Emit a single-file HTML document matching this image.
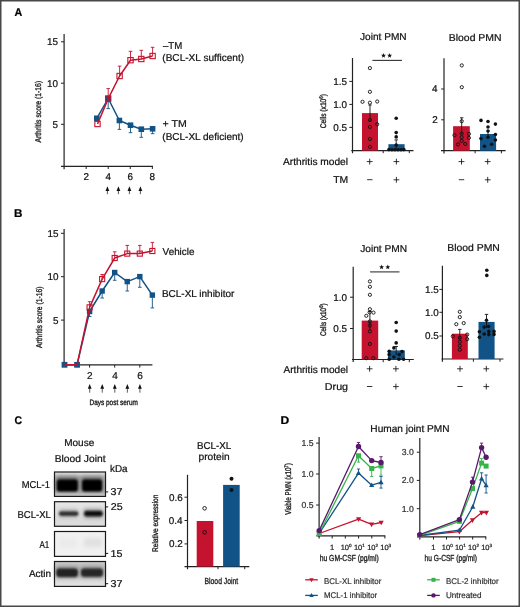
<!DOCTYPE html>
<html><head><meta charset="utf-8"><style>
html,body{margin:0;padding:0;background:#fff;}
body{width:520px;height:607px;overflow:hidden;font-family:"Liberation Sans",sans-serif;}
svg{display:block;filter:blur(0.3px);}
svg text{font-family:"Liberation Sans",sans-serif;text-rendering:geometricPrecision;stroke-width:0.22px;}
</style></head><body>
<svg width="520" height="607" viewBox="0 0 520 607" font-family="Liberation Sans, sans-serif">
<rect x="0" y="0" width="520" height="607" fill="#fff" stroke="none" stroke-width="0" />
<rect x="0.75" y="0.75" width="518.5" height="605.5" fill="none" stroke="#484848" stroke-width="1.5" />
<text x="14.38" y="16.1" font-size="11.2" fill="#000" stroke="#000" font-weight="bold" textLength="7.76" lengthAdjust="spacingAndGlyphs" >A</text>
<line x1="64.1" y1="34" x2="64.1" y2="169.2" stroke="#222" stroke-width="1.2" />
<line x1="61" y1="166.3" x2="153" y2="166.3" stroke="#222" stroke-width="1.2" />
<line x1="61" y1="41.8" x2="64" y2="41.8" stroke="#222" stroke-width="1.0" />
<text x="47.01" y="45.27" font-size="9.9" fill="#111" stroke="#111">15</text>
<line x1="61" y1="83.2" x2="64" y2="83.2" stroke="#222" stroke-width="1.0" />
<text x="47.01" y="86.67" font-size="9.9" fill="#111" stroke="#111">10</text>
<line x1="61" y1="124.3" x2="64" y2="124.3" stroke="#222" stroke-width="1.0" />
<text x="52.55" y="127.77" font-size="9.9" fill="#111" stroke="#111">5</text>
<line x1="86.16" y1="166.3" x2="86.16" y2="169" stroke="#222" stroke-width="1.0" />
<text x="83.39" y="180.2" font-size="9.9" fill="#111" stroke="#111">2</text>
<line x1="108.22" y1="166.3" x2="108.22" y2="169" stroke="#222" stroke-width="1.0" />
<text x="105.50" y="180.2" font-size="9.9" fill="#111" stroke="#111">4</text>
<line x1="130.27999999999997" y1="166.3" x2="130.27999999999997" y2="169" stroke="#222" stroke-width="1.0" />
<text x="127.51" y="180.2" font-size="9.9" fill="#111" stroke="#111">6</text>
<line x1="152.33999999999997" y1="166.3" x2="152.33999999999997" y2="169" stroke="#222" stroke-width="1.0" />
<text x="149.62" y="180.2" font-size="9.9" fill="#111" stroke="#111">8</text>
<line x1="107.4" y1="189.8" x2="107.4" y2="194.2" stroke="#333" stroke-width="0.8" />
<polygon points="107.4,186.3 105.5,190.9 109.30000000000001,190.9" fill="#111"/>
<line x1="118.4" y1="189.8" x2="118.4" y2="194.2" stroke="#333" stroke-width="0.8" />
<polygon points="118.4,186.3 116.5,190.9 120.30000000000001,190.9" fill="#111"/>
<line x1="129.4" y1="189.8" x2="129.4" y2="194.2" stroke="#333" stroke-width="0.8" />
<polygon points="129.4,186.3 127.5,190.9 131.3,190.9" fill="#111"/>
<line x1="140.4" y1="189.8" x2="140.4" y2="194.2" stroke="#333" stroke-width="0.8" />
<polygon points="140.4,186.3 138.5,190.9 142.3,190.9" fill="#111"/>
<text transform="translate(41.4,142.60) rotate(-90)" x="0" y="0" font-size="8.4" fill="#1e1e1e" stroke="#1e1e1e" style="stroke-width:0.35px" font-weight="normal" textLength="61.76" lengthAdjust="spacingAndGlyphs">Arthritis score (1-16)</text>
<line x1="108.2" y1="98.5" x2="108.2" y2="108.6" stroke="#115386" stroke-width="0.9" />
<line x1="106.4" y1="108.6" x2="110.0" y2="108.6" stroke="#115386" stroke-width="0.9" />
<line x1="119.4" y1="120.5" x2="119.4" y2="129.4" stroke="#115386" stroke-width="0.9" />
<line x1="117.60000000000001" y1="129.4" x2="121.2" y2="129.4" stroke="#115386" stroke-width="0.9" />
<line x1="130.5" y1="125.2" x2="130.5" y2="132.7" stroke="#115386" stroke-width="0.9" />
<line x1="128.7" y1="132.7" x2="132.3" y2="132.7" stroke="#115386" stroke-width="0.9" />
<line x1="141.3" y1="129.2" x2="141.3" y2="137.3" stroke="#115386" stroke-width="0.9" />
<line x1="139.5" y1="137.3" x2="143.10000000000002" y2="137.3" stroke="#115386" stroke-width="0.9" />
<line x1="152.6" y1="128.8" x2="152.6" y2="133.7" stroke="#115386" stroke-width="0.9" />
<line x1="150.79999999999998" y1="133.7" x2="154.4" y2="133.7" stroke="#115386" stroke-width="0.9" />
<polyline points="96.8,118.3 108.2,98.5 119.4,120.5 130.5,125.2 141.3,129.2 152.6,128.8" fill="none" stroke="#115386" stroke-width="1.5" stroke-linejoin="round"/>
<rect x="94.0" y="115.5" width="5.6" height="5.6" fill="#115386" stroke="none" stroke-width="0" />
<rect x="105.4" y="95.7" width="5.6" height="5.6" fill="#115386" stroke="none" stroke-width="0" />
<rect x="116.60000000000001" y="117.7" width="5.6" height="5.6" fill="#115386" stroke="none" stroke-width="0" />
<rect x="127.7" y="122.4" width="5.6" height="5.6" fill="#115386" stroke="none" stroke-width="0" />
<rect x="138.5" y="126.39999999999999" width="5.6" height="5.6" fill="#115386" stroke="none" stroke-width="0" />
<rect x="149.79999999999998" y="126.00000000000001" width="5.6" height="5.6" fill="#115386" stroke="none" stroke-width="0" />
<line x1="108.2" y1="98.6" x2="108.2" y2="88.6" stroke="#c4122f" stroke-width="0.9" />
<line x1="106.4" y1="88.6" x2="110.0" y2="88.6" stroke="#c4122f" stroke-width="0.9" />
<line x1="119.6" y1="76" x2="119.6" y2="66.1" stroke="#c4122f" stroke-width="0.9" />
<line x1="117.8" y1="66.1" x2="121.39999999999999" y2="66.1" stroke="#c4122f" stroke-width="0.9" />
<line x1="130.5" y1="60.2" x2="130.5" y2="51.3" stroke="#c4122f" stroke-width="0.9" />
<line x1="128.7" y1="51.3" x2="132.3" y2="51.3" stroke="#c4122f" stroke-width="0.9" />
<line x1="141.3" y1="59" x2="141.3" y2="50.3" stroke="#c4122f" stroke-width="0.9" />
<line x1="139.5" y1="50.3" x2="143.10000000000002" y2="50.3" stroke="#c4122f" stroke-width="0.9" />
<line x1="152.6" y1="56" x2="152.6" y2="47.3" stroke="#c4122f" stroke-width="0.9" />
<line x1="150.79999999999998" y1="47.3" x2="154.4" y2="47.3" stroke="#c4122f" stroke-width="0.9" />
<polyline points="97.5,124 108.2,98.6 119.6,76 130.5,60.2 141.3,59 152.6,56" fill="none" stroke="#c4122f" stroke-width="1.5" stroke-linejoin="round"/>
<rect x="94.85" y="121.35" width="5.3" height="5.3" fill="none" stroke="#c4122f" stroke-width="1.1" />
<rect x="105.55" y="95.94999999999999" width="5.3" height="5.3" fill="none" stroke="#c4122f" stroke-width="1.1" />
<rect x="116.94999999999999" y="73.35" width="5.3" height="5.3" fill="none" stroke="#c4122f" stroke-width="1.1" />
<rect x="127.85" y="57.550000000000004" width="5.3" height="5.3" fill="none" stroke="#c4122f" stroke-width="1.1" />
<rect x="138.65" y="56.35" width="5.3" height="5.3" fill="none" stroke="#c4122f" stroke-width="1.1" />
<rect x="149.95" y="53.35" width="5.3" height="5.3" fill="none" stroke="#c4122f" stroke-width="1.1" />
<text x="162.90" y="49.2" font-size="10" fill="#111" stroke="#111" font-weight="normal" textLength="19.27" lengthAdjust="spacingAndGlyphs" >–TM</text>
<text x="162.29" y="61.0" font-size="10" fill="#111" stroke="#111" font-weight="normal" textLength="81.85" lengthAdjust="spacingAndGlyphs" >(BCL-XL sufficent)</text>
<text x="162.57" y="126.9" font-size="10" fill="#111" stroke="#111" font-weight="normal" textLength="24.15" lengthAdjust="spacingAndGlyphs" >+ TM</text>
<text x="162.30" y="139.8" font-size="10" fill="#111" stroke="#111" font-weight="normal" textLength="81.33" lengthAdjust="spacingAndGlyphs" >(BCL-XL deficient)</text>
<text x="360.00" y="40.2" font-size="10" fill="#111" stroke="#111" font-weight="normal" textLength="46.63" lengthAdjust="spacingAndGlyphs" >Joint PMN</text>
<line x1="352.5" y1="58" x2="352.5" y2="153.2" stroke="#222" stroke-width="1.2" />
<line x1="351.3" y1="150.6" x2="413.5" y2="150.6" stroke="#222" stroke-width="1.2" />
<line x1="383.2" y1="150.6" x2="383.2" y2="153.2" stroke="#222" stroke-width="1.0" />
<line x1="409.3" y1="150.6" x2="409.3" y2="153.2" stroke="#222" stroke-width="1.0" />
<line x1="349.3" y1="81.4" x2="352.5" y2="81.4" stroke="#222" stroke-width="1.0" />
<text x="333.24" y="84.87" font-size="9.9" fill="#111" stroke="#111">1.5</text>
<line x1="349.3" y1="104.4" x2="352.5" y2="104.4" stroke="#222" stroke-width="1.0" />
<text x="333.24" y="107.87" font-size="9.9" fill="#111" stroke="#111">1.0</text>
<line x1="349.3" y1="127.4" x2="352.5" y2="127.4" stroke="#222" stroke-width="1.0" />
<text x="333.24" y="130.87" font-size="9.9" fill="#111" stroke="#111">0.5</text>
<text transform="translate(326.0,128.33) rotate(-90)" x="0" y="0" font-size="8.2" fill="#1e1e1e" stroke="#1e1e1e" style="stroke-width:0.35px" font-weight="normal" textLength="34.33" lengthAdjust="spacingAndGlyphs">Cells (x10<tspan font-size='5.4' dy='-2.8'>6</tspan><tspan dy='2.8'>)</tspan></text>
<rect x="362" y="113.1" width="16" height="37.5" fill="#c4122f" stroke="none" stroke-width="0" />
<rect x="388.4" y="144.2" width="16.2" height="6.4" fill="#115386" stroke="none" stroke-width="0" />
<line x1="370" y1="105" x2="370" y2="121" stroke="#111" stroke-width="0.9" />
<line x1="368.3" y1="105" x2="371.7" y2="105" stroke="#111" stroke-width="0.9" />
<line x1="396.2" y1="139.9" x2="396.2" y2="148.5" stroke="#111" stroke-width="0.9" />
<line x1="394.5" y1="139.9" x2="397.9" y2="139.9" stroke="#111" stroke-width="0.9" />
<circle cx="369.9" cy="68.1" r="1.6" fill="none" stroke="#111" stroke-width="0.9"/>
<circle cx="369.9" cy="91.8" r="1.6" fill="none" stroke="#111" stroke-width="0.9"/>
<circle cx="362.5" cy="101.8" r="1.6" fill="none" stroke="#111" stroke-width="0.9"/>
<circle cx="369.9" cy="102.7" r="1.6" fill="none" stroke="#111" stroke-width="0.9"/>
<circle cx="377.2" cy="101.5" r="1.6" fill="none" stroke="#111" stroke-width="0.9"/>
<circle cx="369.9" cy="120" r="1.6" fill="none" stroke="#111" stroke-width="0.9"/>
<circle cx="369.9" cy="126.9" r="1.6" fill="none" stroke="#111" stroke-width="0.9"/>
<circle cx="377.2" cy="124.3" r="1.6" fill="none" stroke="#111" stroke-width="0.9"/>
<circle cx="369.9" cy="139" r="1.6" fill="none" stroke="#111" stroke-width="0.9"/>
<circle cx="369.9" cy="146.8" r="1.6" fill="none" stroke="#111" stroke-width="0.9"/>
<circle cx="396.2" cy="118.3" r="1.8" fill="#111" stroke="none" stroke-width="0"/>
<circle cx="396.2" cy="132.6" r="1.8" fill="#111" stroke="none" stroke-width="0"/>
<circle cx="396.2" cy="136.9" r="1.8" fill="#111" stroke="none" stroke-width="0"/>
<circle cx="396.2" cy="145.1" r="1.8" fill="#111" stroke="none" stroke-width="0"/>
<circle cx="389" cy="149.6" r="1.8" fill="#111" stroke="none" stroke-width="0"/>
<circle cx="392" cy="149.8" r="1.8" fill="#111" stroke="none" stroke-width="0"/>
<circle cx="395" cy="149.8" r="1.8" fill="#111" stroke="none" stroke-width="0"/>
<circle cx="398" cy="149.8" r="1.8" fill="#111" stroke="none" stroke-width="0"/>
<circle cx="401" cy="149.8" r="1.8" fill="#111" stroke="none" stroke-width="0"/>
<circle cx="403.8" cy="149.6" r="1.8" fill="#111" stroke="none" stroke-width="0"/>
<line x1="372.4" y1="60.4" x2="402" y2="60.4" stroke="#333" stroke-width="1.1" />
<polygon points="383.50,53.00 384.15,54.71 385.97,54.80 384.55,55.94 385.03,57.70 383.50,56.70 381.97,57.70 382.45,55.94 381.03,54.80 382.85,54.71" fill="#111"/>
<polygon points="389.60,53.00 390.25,54.71 392.07,54.80 390.65,55.94 391.13,57.70 389.60,56.70 388.07,57.70 388.55,55.94 387.13,54.80 388.95,54.71" fill="#111"/>
<text x="448.77" y="40.5" font-size="10" fill="#111" stroke="#111" font-weight="normal" textLength="52.74" lengthAdjust="spacingAndGlyphs" >Blood PMN</text>
<line x1="444" y1="58.3" x2="444" y2="153.5" stroke="#222" stroke-width="1.2" />
<line x1="441" y1="150.7" x2="505.6" y2="150.7" stroke="#222" stroke-width="1.2" />
<line x1="475.1" y1="150.7" x2="475.1" y2="153.3" stroke="#222" stroke-width="1.0" />
<line x1="501.4" y1="150.7" x2="501.4" y2="153.3" stroke="#222" stroke-width="1.0" />
<line x1="441.2" y1="89" x2="444" y2="89" stroke="#222" stroke-width="1.0" />
<text x="432.05" y="92.47" font-size="9.9" fill="#111" stroke="#111">4</text>
<line x1="441.2" y1="119.8" x2="444" y2="119.8" stroke="#222" stroke-width="1.0" />
<text x="432.25" y="123.27" font-size="9.9" fill="#111" stroke="#111">2</text>
<rect x="453.1" y="126.2" width="16.7" height="24.5" fill="#c4122f" stroke="none" stroke-width="0" />
<rect x="480" y="134" width="16.1" height="16.7" fill="#115386" stroke="none" stroke-width="0" />
<line x1="461.7" y1="117.8" x2="461.7" y2="134.2" stroke="#111" stroke-width="0.9" />
<line x1="460" y1="117.8" x2="463.4" y2="117.8" stroke="#111" stroke-width="0.9" />
<line x1="488" y1="130" x2="488" y2="137.5" stroke="#111" stroke-width="0.9" />
<circle cx="461.8" cy="65.4" r="1.6" fill="none" stroke="#111" stroke-width="0.9"/>
<circle cx="461.8" cy="87.2" r="1.6" fill="none" stroke="#111" stroke-width="0.9"/>
<circle cx="461.7" cy="121.2" r="1.6" fill="none" stroke="#111" stroke-width="0.9"/>
<circle cx="454.5" cy="135.2" r="1.6" fill="none" stroke="#111" stroke-width="0.9"/>
<circle cx="461.7" cy="133.7" r="1.6" fill="none" stroke="#111" stroke-width="0.9"/>
<circle cx="461.7" cy="137.3" r="1.6" fill="none" stroke="#111" stroke-width="0.9"/>
<circle cx="461.7" cy="140.9" r="1.6" fill="none" stroke="#111" stroke-width="0.9"/>
<circle cx="468.9" cy="133.9" r="1.6" fill="none" stroke="#111" stroke-width="0.9"/>
<circle cx="468.9" cy="137.9" r="1.6" fill="none" stroke="#111" stroke-width="0.9"/>
<circle cx="458" cy="144.4" r="1.6" fill="none" stroke="#111" stroke-width="0.9"/>
<circle cx="465.2" cy="144" r="1.6" fill="none" stroke="#111" stroke-width="0.9"/>
<circle cx="481" cy="120.4" r="1.8" fill="#111" stroke="none" stroke-width="0"/>
<circle cx="488" cy="121.5" r="1.8" fill="#111" stroke="none" stroke-width="0"/>
<circle cx="495.4" cy="124.1" r="1.8" fill="#111" stroke="none" stroke-width="0"/>
<circle cx="488" cy="127" r="1.8" fill="#111" stroke="none" stroke-width="0"/>
<circle cx="488" cy="131" r="1.8" fill="#111" stroke="none" stroke-width="0"/>
<circle cx="495.4" cy="134.5" r="1.8" fill="#111" stroke="none" stroke-width="0"/>
<circle cx="488" cy="137.3" r="1.8" fill="#111" stroke="none" stroke-width="0"/>
<circle cx="481" cy="138.6" r="1.8" fill="#111" stroke="none" stroke-width="0"/>
<circle cx="495.4" cy="140" r="1.8" fill="#111" stroke="none" stroke-width="0"/>
<circle cx="491.7" cy="144.3" r="1.8" fill="#111" stroke="none" stroke-width="0"/>
<circle cx="484.5" cy="146.3" r="1.8" fill="#111" stroke="none" stroke-width="0"/>
<text x="283.00" y="164.8" font-size="10" fill="#111" stroke="#111" font-weight="normal" textLength="65.01" lengthAdjust="spacingAndGlyphs" >Arthritis model</text>
<text x="333.29" y="182.6" font-size="10" fill="#111" stroke="#111" font-weight="normal" textLength="14.98" lengthAdjust="spacingAndGlyphs" >TM</text>
<line x1="366.8" y1="161.6" x2="372.59999999999997" y2="161.6" stroke="#111" stroke-width="0.85" />
<line x1="369.7" y1="158.7" x2="369.7" y2="164.5" stroke="#111" stroke-width="0.85" />
<line x1="393.5" y1="161.6" x2="399.29999999999995" y2="161.6" stroke="#111" stroke-width="0.85" />
<line x1="396.4" y1="158.7" x2="396.4" y2="164.5" stroke="#111" stroke-width="0.85" />
<line x1="458.6" y1="161.6" x2="464.4" y2="161.6" stroke="#111" stroke-width="0.85" />
<line x1="461.5" y1="158.7" x2="461.5" y2="164.5" stroke="#111" stroke-width="0.85" />
<line x1="484.8" y1="161.6" x2="490.59999999999997" y2="161.6" stroke="#111" stroke-width="0.85" />
<line x1="487.7" y1="158.7" x2="487.7" y2="164.5" stroke="#111" stroke-width="0.85" />
<line x1="367.1" y1="179.7" x2="372.5" y2="179.7" stroke="#111" stroke-width="0.85" />
<line x1="393.5" y1="179.8" x2="399.29999999999995" y2="179.8" stroke="#111" stroke-width="0.85" />
<line x1="396.4" y1="176.9" x2="396.4" y2="182.70000000000002" stroke="#111" stroke-width="0.85" />
<line x1="458.8" y1="179.7" x2="464.2" y2="179.7" stroke="#111" stroke-width="0.85" />
<line x1="484.8" y1="179.8" x2="490.59999999999997" y2="179.8" stroke="#111" stroke-width="0.85" />
<line x1="487.7" y1="176.9" x2="487.7" y2="182.70000000000002" stroke="#111" stroke-width="0.85" />
<text x="14.09" y="216.7" font-size="11.2" fill="#000" stroke="#000" font-weight="bold" textLength="8.41" lengthAdjust="spacingAndGlyphs" >B</text>
<line x1="64.1" y1="229" x2="64.1" y2="364.8" stroke="#222" stroke-width="1.2" />
<line x1="64" y1="364.9" x2="152.4" y2="364.9" stroke="#222" stroke-width="1.2" />
<line x1="61" y1="233.3" x2="64" y2="233.3" stroke="#222" stroke-width="1.0" />
<text x="47.51" y="236.77" font-size="9.9" fill="#111" stroke="#111">15</text>
<line x1="61" y1="276.7" x2="64" y2="276.7" stroke="#222" stroke-width="1.0" />
<text x="47.51" y="280.16" font-size="9.9" fill="#111" stroke="#111">10</text>
<line x1="61" y1="320.1" x2="64" y2="320.1" stroke="#222" stroke-width="1.0" />
<text x="53.05" y="323.56" font-size="9.9" fill="#111" stroke="#111">5</text>
<line x1="89.6" y1="364.9" x2="89.6" y2="367.6" stroke="#222" stroke-width="1.0" />
<text x="87.00" y="378.7" font-size="10" fill="#111" stroke="#111">2</text>
<line x1="114.7" y1="364.9" x2="114.7" y2="367.6" stroke="#222" stroke-width="1.0" />
<text x="112.15" y="378.7" font-size="10" fill="#111" stroke="#111">4</text>
<line x1="139.8" y1="364.9" x2="139.8" y2="367.6" stroke="#222" stroke-width="1.0" />
<text x="137.20" y="378.7" font-size="10" fill="#111" stroke="#111">6</text>
<line x1="89.69999999999999" y1="387.6" x2="89.69999999999999" y2="392.7" stroke="#333" stroke-width="0.8" />
<polygon points="89.69999999999999,384.1 87.79999999999998,388.70000000000005 91.6,388.70000000000005" fill="#111"/>
<line x1="102.25" y1="387.6" x2="102.25" y2="392.7" stroke="#333" stroke-width="0.8" />
<polygon points="102.25,384.1 100.35,388.70000000000005 104.15,388.70000000000005" fill="#111"/>
<line x1="114.8" y1="387.6" x2="114.8" y2="392.7" stroke="#333" stroke-width="0.8" />
<polygon points="114.8,384.1 112.89999999999999,388.70000000000005 116.7,388.70000000000005" fill="#111"/>
<line x1="127.35" y1="387.6" x2="127.35" y2="392.7" stroke="#333" stroke-width="0.8" />
<polygon points="127.35,384.1 125.44999999999999,388.70000000000005 129.25,388.70000000000005" fill="#111"/>
<line x1="139.9" y1="387.6" x2="139.9" y2="392.7" stroke="#333" stroke-width="0.8" />
<polygon points="139.9,384.1 138.0,388.70000000000005 141.8,388.70000000000005" fill="#111"/>
<text x="89.58" y="405.2" font-size="7.9" fill="#1e1e1e" stroke="#1e1e1e" font-weight="normal" textLength="48.31" lengthAdjust="spacingAndGlyphs" style="stroke-width:0.35px" >Days post serum</text>
<text transform="translate(42.2,348.10) rotate(-90)" x="0" y="0" font-size="8.4" fill="#1e1e1e" stroke="#1e1e1e" style="stroke-width:0.35px" font-weight="normal" textLength="61.66" lengthAdjust="spacingAndGlyphs">Arthritis score (1-16)</text>
<line x1="89.6" y1="311.5" x2="89.6" y2="316.5" stroke="#115386" stroke-width="0.9" />
<line x1="87.8" y1="316.5" x2="91.39999999999999" y2="316.5" stroke="#115386" stroke-width="0.9" />
<line x1="102.15" y1="291" x2="102.15" y2="298" stroke="#115386" stroke-width="0.9" />
<line x1="100.35000000000001" y1="298" x2="103.95" y2="298" stroke="#115386" stroke-width="0.9" />
<line x1="114.7" y1="272.5" x2="114.7" y2="280.3" stroke="#115386" stroke-width="0.9" />
<line x1="112.9" y1="280.3" x2="116.5" y2="280.3" stroke="#115386" stroke-width="0.9" />
<line x1="127.25" y1="281.6" x2="127.25" y2="291" stroke="#115386" stroke-width="0.9" />
<line x1="125.45" y1="291" x2="129.05" y2="291" stroke="#115386" stroke-width="0.9" />
<line x1="139.8" y1="276.6" x2="139.8" y2="287.3" stroke="#115386" stroke-width="0.9" />
<line x1="138.0" y1="287.3" x2="141.60000000000002" y2="287.3" stroke="#115386" stroke-width="0.9" />
<line x1="152.35000000000002" y1="295.1" x2="152.35000000000002" y2="307.9" stroke="#115386" stroke-width="0.9" />
<line x1="150.55" y1="307.9" x2="154.15000000000003" y2="307.9" stroke="#115386" stroke-width="0.9" />
<polyline points="64.5,364.8 77.05,364.8 89.6,311.5 102.15,291 114.7,272.5 127.25,281.6 139.8,276.6 152.35000000000002,295.1" fill="none" stroke="#115386" stroke-width="1.5" stroke-linejoin="round"/>
<rect x="86.89999999999999" y="308.8" width="5.4" height="5.4" fill="#115386" stroke="none" stroke-width="0" />
<rect x="99.45" y="288.3" width="5.4" height="5.4" fill="#115386" stroke="none" stroke-width="0" />
<rect x="112.0" y="269.8" width="5.4" height="5.4" fill="#115386" stroke="none" stroke-width="0" />
<rect x="124.55" y="278.90000000000003" width="5.4" height="5.4" fill="#115386" stroke="none" stroke-width="0" />
<rect x="137.10000000000002" y="273.90000000000003" width="5.4" height="5.4" fill="#115386" stroke="none" stroke-width="0" />
<rect x="149.65000000000003" y="292.40000000000003" width="5.4" height="5.4" fill="#115386" stroke="none" stroke-width="0" />
<line x1="89.6" y1="307.4" x2="89.6" y2="301.7" stroke="#c4122f" stroke-width="0.9" />
<line x1="87.8" y1="301.7" x2="91.39999999999999" y2="301.7" stroke="#c4122f" stroke-width="0.9" />
<line x1="102.15" y1="279.1" x2="102.15" y2="274.5" stroke="#c4122f" stroke-width="0.9" />
<line x1="100.35000000000001" y1="274.5" x2="103.95" y2="274.5" stroke="#c4122f" stroke-width="0.9" />
<line x1="114.7" y1="258" x2="114.7" y2="251.8" stroke="#c4122f" stroke-width="0.9" />
<line x1="112.9" y1="251.8" x2="116.5" y2="251.8" stroke="#c4122f" stroke-width="0.9" />
<line x1="127.25" y1="253.6" x2="127.25" y2="245.4" stroke="#c4122f" stroke-width="0.9" />
<line x1="125.45" y1="245.4" x2="129.05" y2="245.4" stroke="#c4122f" stroke-width="0.9" />
<line x1="139.8" y1="253.6" x2="139.8" y2="245.4" stroke="#c4122f" stroke-width="0.9" />
<line x1="138.0" y1="245.4" x2="141.60000000000002" y2="245.4" stroke="#c4122f" stroke-width="0.9" />
<line x1="152.35000000000002" y1="251" x2="152.35000000000002" y2="242.4" stroke="#c4122f" stroke-width="0.9" />
<line x1="150.55" y1="242.4" x2="154.15000000000003" y2="242.4" stroke="#c4122f" stroke-width="0.9" />
<rect x="61.6" y="361.90000000000003" width="5.8" height="5.8" fill="#115386" stroke="none" stroke-width="0" />
<rect x="74.14999999999999" y="361.90000000000003" width="5.8" height="5.8" fill="#115386" stroke="none" stroke-width="0" />
<polyline points="64.5,364.8 77.05,364.8 89.6,307.4 102.15,279.1 114.7,258 127.25,253.6 139.8,253.6 152.35000000000002,251" fill="none" stroke="#c4122f" stroke-width="1.5" stroke-linejoin="round"/>
<rect x="87.05" y="304.84999999999997" width="5.1" height="5.1" fill="none" stroke="#c4122f" stroke-width="1.1" />
<rect x="99.60000000000001" y="276.55" width="5.1" height="5.1" fill="none" stroke="#c4122f" stroke-width="1.1" />
<rect x="112.15" y="255.45" width="5.1" height="5.1" fill="none" stroke="#c4122f" stroke-width="1.1" />
<rect x="124.7" y="251.04999999999998" width="5.1" height="5.1" fill="none" stroke="#c4122f" stroke-width="1.1" />
<rect x="137.25" y="251.04999999999998" width="5.1" height="5.1" fill="none" stroke="#c4122f" stroke-width="1.1" />
<rect x="149.8" y="248.45" width="5.1" height="5.1" fill="none" stroke="#c4122f" stroke-width="1.1" />
<text x="162.60" y="255.0" font-size="10" fill="#111" stroke="#111" font-weight="normal" textLength="31.84" lengthAdjust="spacingAndGlyphs" >Vehicle</text>
<text x="161.90" y="297.3" font-size="10" fill="#111" stroke="#111" font-weight="normal" textLength="72.44" lengthAdjust="spacingAndGlyphs" >BCL-XL inhibitor</text>
<text x="360.20" y="251.9" font-size="10" fill="#111" stroke="#111" font-weight="normal" textLength="46.94" lengthAdjust="spacingAndGlyphs" >Joint PMN</text>
<line x1="353.2" y1="266.7" x2="353.2" y2="362" stroke="#222" stroke-width="1.2" />
<line x1="352" y1="359.5" x2="413.8" y2="359.5" stroke="#222" stroke-width="1.2" />
<line x1="383.2" y1="359.5" x2="383.2" y2="362.2" stroke="#222" stroke-width="1.0" />
<line x1="409.3" y1="359.5" x2="409.3" y2="362.2" stroke="#222" stroke-width="1.0" />
<line x1="350" y1="297.2" x2="353.2" y2="297.2" stroke="#222" stroke-width="1.0" />
<text x="333.24" y="300.66" font-size="9.9" fill="#111" stroke="#111">1.0</text>
<line x1="350" y1="328.5" x2="353.2" y2="328.5" stroke="#222" stroke-width="1.0" />
<text x="333.24" y="331.96" font-size="9.9" fill="#111" stroke="#111">0.5</text>
<text transform="translate(325.6,336.01) rotate(-90)" x="0" y="0" font-size="8.2" fill="#1e1e1e" stroke="#1e1e1e" style="stroke-width:0.35px" font-weight="normal" textLength="32.59" lengthAdjust="spacingAndGlyphs">Cells (x10<tspan font-size='5.4' dy='-2.8'>6</tspan><tspan dy='2.8'>)</tspan></text>
<rect x="361.7" y="320.6" width="16.5" height="38.9" fill="#c4122f" stroke="none" stroke-width="0" />
<rect x="387.9" y="350.4" width="16.9" height="9.1" fill="#115386" stroke="none" stroke-width="0" />
<line x1="369.9" y1="311.5" x2="369.9" y2="330" stroke="#111" stroke-width="0.9" />
<line x1="368.2" y1="311.5" x2="371.6" y2="311.5" stroke="#111" stroke-width="0.9" />
<line x1="396.2" y1="346.5" x2="396.2" y2="355" stroke="#111" stroke-width="0.9" />
<line x1="394.5" y1="346.5" x2="397.9" y2="346.5" stroke="#111" stroke-width="0.9" />
<circle cx="369.9" cy="281.4" r="1.6" fill="none" stroke="#111" stroke-width="0.9"/>
<circle cx="369.9" cy="286.8" r="1.6" fill="none" stroke="#111" stroke-width="0.9"/>
<circle cx="369.9" cy="294.8" r="1.6" fill="none" stroke="#111" stroke-width="0.9"/>
<circle cx="369.9" cy="309.2" r="1.6" fill="none" stroke="#111" stroke-width="0.9"/>
<circle cx="373.5" cy="312.6" r="1.6" fill="none" stroke="#111" stroke-width="0.9"/>
<circle cx="369.6" cy="312.3" r="1.6" fill="none" stroke="#111" stroke-width="0.9"/>
<circle cx="366.3" cy="315.8" r="1.6" fill="none" stroke="#111" stroke-width="0.9"/>
<circle cx="369.9" cy="321.4" r="1.6" fill="none" stroke="#111" stroke-width="0.9"/>
<circle cx="369.9" cy="325.6" r="1.6" fill="none" stroke="#111" stroke-width="0.9"/>
<circle cx="369.9" cy="331.4" r="1.6" fill="none" stroke="#111" stroke-width="0.9"/>
<circle cx="369.9" cy="344" r="1.6" fill="none" stroke="#111" stroke-width="0.9"/>
<circle cx="366.3" cy="358.2" r="1.6" fill="none" stroke="#111" stroke-width="0.9"/>
<circle cx="373.3" cy="358.2" r="1.6" fill="none" stroke="#111" stroke-width="0.9"/>
<circle cx="396.2" cy="322.5" r="1.8" fill="#111" stroke="none" stroke-width="0"/>
<circle cx="396.2" cy="331.1" r="1.8" fill="#111" stroke="none" stroke-width="0"/>
<circle cx="396.2" cy="342.9" r="1.8" fill="#111" stroke="none" stroke-width="0"/>
<circle cx="393.9" cy="347.9" r="1.8" fill="#111" stroke="none" stroke-width="0"/>
<circle cx="389.2" cy="351.2" r="1.8" fill="#111" stroke="none" stroke-width="0"/>
<circle cx="402" cy="351.5" r="1.8" fill="#111" stroke="none" stroke-width="0"/>
<circle cx="389.2" cy="354.6" r="1.8" fill="#111" stroke="none" stroke-width="0"/>
<circle cx="399.2" cy="354.6" r="1.8" fill="#111" stroke="none" stroke-width="0"/>
<circle cx="393.9" cy="357" r="1.8" fill="#111" stroke="none" stroke-width="0"/>
<circle cx="389.2" cy="359.2" r="1.8" fill="#111" stroke="none" stroke-width="0"/>
<circle cx="398.9" cy="359.2" r="1.8" fill="#111" stroke="none" stroke-width="0"/>
<circle cx="403.6" cy="359.2" r="1.8" fill="#111" stroke="none" stroke-width="0"/>
<line x1="370.1" y1="271.9" x2="399.5" y2="271.9" stroke="#333" stroke-width="1.1" />
<polygon points="381.60,264.60 382.25,266.31 384.07,266.40 382.65,267.54 383.13,269.30 381.60,268.30 380.07,269.30 380.55,267.54 379.13,266.40 380.95,266.31" fill="#111"/>
<polygon points="387.80,264.60 388.45,266.31 390.27,266.40 388.85,267.54 389.33,269.30 387.80,268.30 386.27,269.30 386.75,267.54 385.33,266.40 387.15,266.31" fill="#111"/>
<text x="447.27" y="251.2" font-size="10" fill="#111" stroke="#111" font-weight="normal" textLength="52.54" lengthAdjust="spacingAndGlyphs" >Blood PMN</text>
<line x1="442.4" y1="265.7" x2="442.4" y2="361.7" stroke="#222" stroke-width="1.2" />
<line x1="441.5" y1="359" x2="503.4" y2="359" stroke="#222" stroke-width="1.2" />
<line x1="473.4" y1="359" x2="473.4" y2="361.7" stroke="#222" stroke-width="1.0" />
<line x1="500" y1="359" x2="500" y2="361.7" stroke="#222" stroke-width="1.0" />
<line x1="439.4" y1="289.4" x2="442.4" y2="289.4" stroke="#222" stroke-width="1.0" />
<text x="425.03" y="292.86" font-size="9.9" fill="#111" stroke="#111">1.5</text>
<line x1="439.4" y1="312.3" x2="442.4" y2="312.3" stroke="#222" stroke-width="1.0" />
<text x="425.03" y="315.76" font-size="9.9" fill="#111" stroke="#111">1.0</text>
<line x1="439.4" y1="336" x2="442.4" y2="336" stroke="#222" stroke-width="1.0" />
<text x="425.03" y="339.46" font-size="9.9" fill="#111" stroke="#111">0.5</text>
<rect x="451.9" y="333.7" width="15.9" height="25.3" fill="#c4122f" stroke="none" stroke-width="0" />
<rect x="478.5" y="321.9" width="16.1" height="37.1" fill="#115386" stroke="none" stroke-width="0" />
<line x1="459.8" y1="329.4" x2="459.8" y2="340" stroke="#111" stroke-width="0.9" />
<line x1="458.1" y1="329.4" x2="461.5" y2="329.4" stroke="#111" stroke-width="0.9" />
<line x1="486.5" y1="314.4" x2="486.5" y2="328" stroke="#111" stroke-width="0.9" />
<line x1="484.8" y1="314.4" x2="488.2" y2="314.4" stroke="#111" stroke-width="0.9" />
<circle cx="459.8" cy="311.8" r="1.6" fill="none" stroke="#111" stroke-width="0.9"/>
<circle cx="459.8" cy="317.1" r="1.6" fill="none" stroke="#111" stroke-width="0.9"/>
<circle cx="456.3" cy="324.2" r="1.6" fill="none" stroke="#111" stroke-width="0.9"/>
<circle cx="463.7" cy="323.1" r="1.6" fill="none" stroke="#111" stroke-width="0.9"/>
<circle cx="452.8" cy="336.3" r="1.6" fill="none" stroke="#111" stroke-width="0.9"/>
<circle cx="467.2" cy="334.6" r="1.6" fill="none" stroke="#111" stroke-width="0.9"/>
<circle cx="467.2" cy="339.2" r="1.6" fill="none" stroke="#111" stroke-width="0.9"/>
<circle cx="459.8" cy="337.8" r="1.6" fill="none" stroke="#111" stroke-width="0.9"/>
<circle cx="459.8" cy="341.8" r="1.6" fill="none" stroke="#111" stroke-width="0.9"/>
<circle cx="459.8" cy="345.8" r="1.6" fill="none" stroke="#111" stroke-width="0.9"/>
<circle cx="459.8" cy="349.8" r="1.6" fill="none" stroke="#111" stroke-width="0.9"/>
<circle cx="486.8" cy="270.3" r="1.8" fill="#111" stroke="none" stroke-width="0"/>
<circle cx="486.8" cy="275.4" r="1.8" fill="#111" stroke="none" stroke-width="0"/>
<circle cx="486.5" cy="320.2" r="1.8" fill="#111" stroke="none" stroke-width="0"/>
<circle cx="484.2" cy="327.1" r="1.8" fill="#111" stroke="none" stroke-width="0"/>
<circle cx="488.6" cy="326.5" r="1.8" fill="#111" stroke="none" stroke-width="0"/>
<circle cx="479.4" cy="331.7" r="1.8" fill="#111" stroke="none" stroke-width="0"/>
<circle cx="488.8" cy="331.4" r="1.8" fill="#111" stroke="none" stroke-width="0"/>
<circle cx="494" cy="331.4" r="1.8" fill="#111" stroke="none" stroke-width="0"/>
<circle cx="484.2" cy="334" r="1.8" fill="#111" stroke="none" stroke-width="0"/>
<circle cx="488.8" cy="334.6" r="1.8" fill="#111" stroke="none" stroke-width="0"/>
<circle cx="494" cy="334.4" r="1.8" fill="#111" stroke="none" stroke-width="0"/>
<circle cx="479.4" cy="337.2" r="1.8" fill="#111" stroke="none" stroke-width="0"/>
<text x="283.50" y="372.9" font-size="10" fill="#111" stroke="#111" font-weight="normal" textLength="64.51" lengthAdjust="spacingAndGlyphs" >Arthritis model</text>
<text x="324.84" y="390.1" font-size="10" fill="#111" stroke="#111" font-weight="normal" textLength="23.28" lengthAdjust="spacingAndGlyphs" >Drug</text>
<line x1="366.70000000000005" y1="368.8" x2="372.5" y2="368.8" stroke="#111" stroke-width="0.85" />
<line x1="369.6" y1="365.90000000000003" x2="369.6" y2="371.7" stroke="#111" stroke-width="0.85" />
<line x1="393.0" y1="368.8" x2="398.79999999999995" y2="368.8" stroke="#111" stroke-width="0.85" />
<line x1="395.9" y1="365.90000000000003" x2="395.9" y2="371.7" stroke="#111" stroke-width="0.85" />
<line x1="457.1" y1="368.8" x2="462.9" y2="368.8" stroke="#111" stroke-width="0.85" />
<line x1="460" y1="365.90000000000003" x2="460" y2="371.7" stroke="#111" stroke-width="0.85" />
<line x1="483.40000000000003" y1="368.8" x2="489.2" y2="368.8" stroke="#111" stroke-width="0.85" />
<line x1="486.3" y1="365.90000000000003" x2="486.3" y2="371.7" stroke="#111" stroke-width="0.85" />
<line x1="366.90000000000003" y1="386.5" x2="372.3" y2="386.5" stroke="#111" stroke-width="0.85" />
<line x1="393.0" y1="386.6" x2="398.79999999999995" y2="386.6" stroke="#111" stroke-width="0.85" />
<line x1="395.9" y1="383.70000000000005" x2="395.9" y2="389.5" stroke="#111" stroke-width="0.85" />
<line x1="457.3" y1="386.5" x2="462.7" y2="386.5" stroke="#111" stroke-width="0.85" />
<line x1="483.40000000000003" y1="386.6" x2="489.2" y2="386.6" stroke="#111" stroke-width="0.85" />
<line x1="486.3" y1="383.70000000000005" x2="486.3" y2="389.5" stroke="#111" stroke-width="0.85" />
<text x="14.58" y="423.9" font-size="11.2" fill="#000" stroke="#000" font-weight="bold" textLength="7.56" lengthAdjust="spacingAndGlyphs" >C</text>
<text x="64.20" y="445.8" font-size="10" fill="#111" stroke="#111" font-weight="normal" textLength="30.01" lengthAdjust="spacingAndGlyphs" >Mouse</text>
<text x="54.68" y="462.4" font-size="10" fill="#111" stroke="#111" font-weight="normal" textLength="50.90" lengthAdjust="spacingAndGlyphs" >Blood Joint</text>
<text x="110.01" y="472.3" font-size="10" fill="#111" stroke="#111" font-weight="normal" textLength="17.57" lengthAdjust="spacingAndGlyphs" >kDa</text>
<defs><filter id="blur1" x="-20%" y="-50%" width="140%" height="200%"><feGaussianBlur stdDeviation="1.2"/></filter><filter id="blur2" x="-20%" y="-50%" width="140%" height="200%"><feGaussianBlur stdDeviation="0.8"/></filter><filter id="blur3" x="-20%" y="-50%" width="140%" height="200%"><feGaussianBlur stdDeviation="2"/></filter></defs>
<defs><linearGradient id="gm" x1="0" y1="0" x2="0" y2="1"><stop offset="0" stop-color="#e4e4e4"/><stop offset="0.25" stop-color="#b8b8b8"/><stop offset="0.8" stop-color="#a8a8a8"/><stop offset="1" stop-color="#d0d0d0"/></linearGradient><linearGradient id="ga" x1="0" y1="0" x2="0" y2="1"><stop offset="0" stop-color="#c8c8c8"/><stop offset="1" stop-color="#e2e2e2"/></linearGradient><linearGradient id="gb" x1="0" y1="0" x2="0" y2="1"><stop offset="0" stop-color="#e6e6e6"/><stop offset="1" stop-color="#dadada"/></linearGradient></defs>
<rect x="54.5" y="472" width="51" height="24.4" fill="url(#gm)" stroke="none" stroke-width="0" />
<g filter="url(#blur3)">
<rect x="56" y="476.5" width="22.5" height="14" fill="#707070" stroke="none" stroke-width="0" />
<rect x="81" y="476.5" width="22" height="14" fill="#707070" stroke="none" stroke-width="0" />
</g>
<g filter="url(#blur2)">
<rect x="56.8" y="479.4" width="21" height="12.2" fill="#050505" stroke="none" stroke-width="0" rx="2.5"/>
<rect x="82.1" y="479.4" width="20" height="12.2" fill="#050505" stroke="none" stroke-width="0" rx="2.5"/>
</g>
<rect x="54.5" y="472" width="51" height="24.4" fill="none" stroke="#1a1a1a" stroke-width="1.2" />
<rect x="54.5" y="501.7" width="51" height="24.6" fill="url(#gb)" stroke="none" stroke-width="0" />
<g filter="url(#blur3)">
<rect x="59" y="509.5" width="19" height="8" fill="#b0b0b0" stroke="none" stroke-width="0" />
<rect x="84" y="509" width="18.5" height="9" fill="#909090" stroke="none" stroke-width="0" />
</g>
<g filter="url(#blur2)">
<rect x="59" y="511.4" width="19.4" height="4.4" fill="#2a2a2a" stroke="none" stroke-width="0" rx="2"/>
<rect x="84.3" y="511" width="18.3" height="5.2" fill="#070707" stroke="none" stroke-width="0" rx="2"/>
</g>
<rect x="54.5" y="501.7" width="51" height="24.6" fill="none" stroke="#1a1a1a" stroke-width="1.2" />
<rect x="54.5" y="531.5" width="51" height="24.9" fill="#f1f1f1" stroke="none" stroke-width="0" />
<g filter="url(#blur3)">
<rect x="84" y="538" width="18" height="9" fill="#e0e0e0" stroke="none" stroke-width="0" />
<rect x="59" y="539" width="18" height="8" fill="#eaeaea" stroke="none" stroke-width="0" />
</g>
<rect x="54.5" y="531.5" width="51" height="24.9" fill="none" stroke="#1a1a1a" stroke-width="1.2" />
<rect x="54.5" y="561.5" width="51" height="24.9" fill="url(#ga)" stroke="none" stroke-width="0" />
<g filter="url(#blur3)">
<rect x="56" y="566" width="22.5" height="12" fill="#909090" stroke="none" stroke-width="0" />
<rect x="80.5" y="566" width="23" height="12" fill="#909090" stroke="none" stroke-width="0" />
</g>
<g filter="url(#blur2)">
<rect x="56.3" y="568.6" width="21.5" height="8.4" fill="#222" stroke="none" stroke-width="0" rx="3"/>
<rect x="81" y="568.6" width="22" height="8.2" fill="#262626" stroke="none" stroke-width="0" rx="3"/>
</g>
<rect x="54.5" y="561.5" width="51" height="24.9" fill="none" stroke="#1a1a1a" stroke-width="1.2" />
<text x="21.75" y="487.9" font-size="10" fill="#111" stroke="#111" font-weight="normal" textLength="28.12" lengthAdjust="spacingAndGlyphs" >MCL-1</text>
<text x="17.44" y="517.9" font-size="10" fill="#111" stroke="#111" font-weight="normal" textLength="33.36" lengthAdjust="spacingAndGlyphs" >BCL-XL</text>
<text x="39.50" y="547.5" font-size="10" fill="#111" stroke="#111" font-weight="normal" textLength="9.85" lengthAdjust="spacingAndGlyphs" >A1</text>
<text x="28.90" y="577.3" font-size="10" fill="#111" stroke="#111" font-weight="normal" textLength="22.23" lengthAdjust="spacingAndGlyphs" >Actin</text>
<line x1="105.8" y1="491.9" x2="108.2" y2="491.9" stroke="#111" stroke-width="1.0" />
<text x="110.47" y="495.4" font-size="10" fill="#111" stroke="#111" font-weight="normal" textLength="11.99" lengthAdjust="spacingAndGlyphs" >37</text>
<line x1="105.8" y1="506.9" x2="108.2" y2="506.9" stroke="#111" stroke-width="1.0" />
<text x="110.72" y="510.4" font-size="10" fill="#111" stroke="#111" font-weight="normal" textLength="11.88" lengthAdjust="spacingAndGlyphs" >25</text>
<line x1="105.8" y1="553.4" x2="108.2" y2="553.4" stroke="#111" stroke-width="1.0" />
<text x="110.44" y="556.9" font-size="10" fill="#111" stroke="#111" font-weight="normal" textLength="11.90" lengthAdjust="spacingAndGlyphs" >15</text>
<line x1="105.8" y1="583.7" x2="108.2" y2="583.7" stroke="#111" stroke-width="1.0" />
<text x="110.47" y="587.2" font-size="10" fill="#111" stroke="#111" font-weight="normal" textLength="11.99" lengthAdjust="spacingAndGlyphs" >37</text>
<text x="196.92" y="449.0" font-size="10" fill="#111" stroke="#111" font-weight="normal" textLength="34.29" lengthAdjust="spacingAndGlyphs" >BCL-XL</text>
<text x="198.49" y="460.2" font-size="10" fill="#111" stroke="#111" font-weight="normal" textLength="31.10" lengthAdjust="spacingAndGlyphs" >protein</text>
<line x1="187.5" y1="474.8" x2="187.5" y2="569.2" stroke="#222" stroke-width="1.2" />
<line x1="184.5" y1="566.6" x2="249.3" y2="566.6" stroke="#222" stroke-width="1.2" />
<line x1="218.0" y1="566.6" x2="218.0" y2="569.2" stroke="#222" stroke-width="1.0" />
<line x1="244.7" y1="566.6" x2="244.7" y2="569.2" stroke="#222" stroke-width="1.0" />
<line x1="184.5" y1="497.2" x2="187.5" y2="497.2" stroke="#222" stroke-width="1.0" />
<text x="168.93" y="500.66" font-size="9.9" fill="#111" stroke="#111">0.6</text>
<line x1="184.5" y1="520.5" x2="187.5" y2="520.5" stroke="#222" stroke-width="1.0" />
<text x="168.74" y="523.97" font-size="9.9" fill="#111" stroke="#111">0.4</text>
<line x1="184.5" y1="543.9" x2="187.5" y2="543.9" stroke="#222" stroke-width="1.0" />
<text x="168.93" y="547.37" font-size="9.9" fill="#111" stroke="#111">0.2</text>
<rect x="196.7" y="521" width="16.6" height="45.6" fill="#c4122f" stroke="none" stroke-width="0" />
<rect x="223.1" y="484.9" width="16.6" height="81.7" fill="#115386" stroke="none" stroke-width="0" />
<circle cx="204.6" cy="508.3" r="1.8" fill="none" stroke="#111" stroke-width="0.9"/>
<circle cx="204.6" cy="532.3" r="1.8" fill="none" stroke="#111" stroke-width="0.9"/>
<circle cx="231.5" cy="478.8" r="2.0" fill="#111" stroke="none" stroke-width="0"/>
<circle cx="231.5" cy="489.9" r="2.0" fill="#111" stroke="none" stroke-width="0"/>
<text x="204.56" y="583.7" font-size="8.8" fill="#1e1e1e" stroke="#1e1e1e" font-weight="normal" textLength="33.59" lengthAdjust="spacingAndGlyphs" style="stroke-width:0.35px" >Blood Joint</text>
<text transform="translate(157.9,552.03) rotate(-90)" x="0" y="0" font-size="8.2" fill="#1e1e1e" stroke="#1e1e1e" style="stroke-width:0.35px" font-weight="normal" textLength="57.46" lengthAdjust="spacingAndGlyphs">Relative expression</text>
<text x="280.45" y="424.3" font-size="11.2" fill="#000" stroke="#000" font-weight="bold" textLength="8.76" lengthAdjust="spacingAndGlyphs" >D</text>
<text x="370.39" y="431.6" font-size="10" fill="#111" stroke="#111" font-weight="normal" textLength="79.17" lengthAdjust="spacingAndGlyphs" >Human joint PMN</text>
<line x1="319.1" y1="437.1" x2="319.1" y2="538.5" stroke="#222" stroke-width="1.2" />
<line x1="316.40000000000003" y1="535.8" x2="385.29999999999995" y2="535.8" stroke="#222" stroke-width="1.2" />
<line x1="332.2" y1="535.8" x2="332.2" y2="538.5" stroke="#222" stroke-width="1.0" />
<line x1="345.3" y1="535.8" x2="345.3" y2="538.5" stroke="#222" stroke-width="1.0" />
<line x1="358.6" y1="535.8" x2="358.6" y2="538.5" stroke="#222" stroke-width="1.0" />
<line x1="371.8" y1="535.8" x2="371.8" y2="538.5" stroke="#222" stroke-width="1.0" />
<line x1="384.9" y1="535.8" x2="384.9" y2="538.5" stroke="#222" stroke-width="1.0" />
<line x1="316.1" y1="443.1" x2="319.1" y2="443.1" stroke="#222" stroke-width="1.0" />
<text x="301.45" y="446.15" font-size="8.7" fill="#333" stroke="#333">1.5</text>
<line x1="316.1" y1="474.0" x2="319.1" y2="474.0" stroke="#222" stroke-width="1.0" />
<text x="301.45" y="477.05" font-size="8.7" fill="#333" stroke="#333">1.0</text>
<line x1="316.1" y1="505" x2="319.1" y2="505" stroke="#222" stroke-width="1.0" />
<text x="301.45" y="508.05" font-size="8.7" fill="#333" stroke="#333">0.5</text>
<text x="329.99" y="549.5" font-size="7.5" fill="#222" stroke="#222">1</text>
<text x="340.65" y="549.5" font-size="7.5" fill="#222" stroke="#222">10<tspan font-size="4.6" dy="-2.9">0</tspan></text>
<text x="353.95" y="549.5" font-size="7.5" fill="#222" stroke="#222">10<tspan font-size="4.6" dy="-2.9">1</tspan></text>
<text x="367.15" y="549.5" font-size="7.5" fill="#222" stroke="#222">10<tspan font-size="4.6" dy="-2.9">2</tspan></text>
<text x="380.25" y="549.5" font-size="7.5" fill="#222" stroke="#222">10<tspan font-size="4.6" dy="-2.9">3</tspan></text>
<text x="319.73" y="561.0" font-size="8.8" fill="#222" stroke="#222" font-weight="normal" textLength="59.00" lengthAdjust="spacingAndGlyphs" style="stroke-width:0.35px" >hu GM-CSF (pg/ml)</text>
<line x1="419.8" y1="438.1" x2="419.8" y2="539.5" stroke="#222" stroke-width="1.2" />
<line x1="417.1" y1="536.8" x2="486.2" y2="536.8" stroke="#222" stroke-width="1.2" />
<line x1="433.5" y1="536.8" x2="433.5" y2="539.5" stroke="#222" stroke-width="1.0" />
<line x1="446.5" y1="536.8" x2="446.5" y2="539.5" stroke="#222" stroke-width="1.0" />
<line x1="459.6" y1="536.8" x2="459.6" y2="539.5" stroke="#222" stroke-width="1.0" />
<line x1="472.7" y1="536.8" x2="472.7" y2="539.5" stroke="#222" stroke-width="1.0" />
<line x1="485.8" y1="536.8" x2="485.8" y2="539.5" stroke="#222" stroke-width="1.0" />
<line x1="416.8" y1="452.2" x2="419.8" y2="452.2" stroke="#222" stroke-width="1.0" />
<text x="401.75" y="455.25" font-size="8.7" fill="#333" stroke="#333">3.0</text>
<line x1="416.8" y1="480.4" x2="419.8" y2="480.4" stroke="#222" stroke-width="1.0" />
<text x="401.75" y="483.44" font-size="8.7" fill="#333" stroke="#333">2.0</text>
<line x1="416.8" y1="508.7" x2="419.8" y2="508.7" stroke="#222" stroke-width="1.0" />
<text x="401.75" y="511.75" font-size="8.7" fill="#333" stroke="#333">1.0</text>
<text x="431.29" y="549.5" font-size="7.5" fill="#222" stroke="#222">1</text>
<text x="441.85" y="549.5" font-size="7.5" fill="#222" stroke="#222">10<tspan font-size="4.6" dy="-2.9">0</tspan></text>
<text x="454.95" y="549.5" font-size="7.5" fill="#222" stroke="#222">10<tspan font-size="4.6" dy="-2.9">1</tspan></text>
<text x="468.05" y="549.5" font-size="7.5" fill="#222" stroke="#222">10<tspan font-size="4.6" dy="-2.9">2</tspan></text>
<text x="481.15" y="549.5" font-size="7.5" fill="#222" stroke="#222">10<tspan font-size="4.6" dy="-2.9">3</tspan></text>
<text x="424.54" y="561.0" font-size="8.8" fill="#222" stroke="#222" font-weight="normal" textLength="52.36" lengthAdjust="spacingAndGlyphs" style="stroke-width:0.35px" >hu G-CSF (pg/ml)</text>
<text transform="translate(290.8,514.66) rotate(-90)" x="0" y="0" font-size="8.5" fill="#1e1e1e" stroke="#1e1e1e" style="stroke-width:0.35px" font-weight="normal" textLength="51.44" lengthAdjust="spacingAndGlyphs">Viable PMN (x10<tspan font-size='5.2' dy='-2.8'>7</tspan><tspan dy='2.8'>)</tspan></text>
<polyline points="319.2,533.5 358.6,519.2 371.6,524.4 381.2,522.5" fill="none" stroke="#c4122f" stroke-width="1.3" stroke-linejoin="round"/>
<polygon points="319.2,536.308 316.59999999999997,531.628 321.8,531.628" fill="#c4122f"/>
<polygon points="358.6,522.008 356.0,517.3280000000001 361.20000000000005,517.3280000000001" fill="#c4122f"/>
<polygon points="371.6,527.208 369.0,522.528 374.20000000000005,522.528" fill="#c4122f"/>
<polygon points="381.2,525.308 378.59999999999997,520.628 383.8,520.628" fill="#c4122f"/>
<line x1="358.5" y1="473.1" x2="358.5" y2="469" stroke="#115386" stroke-width="0.9" />
<line x1="356.9" y1="469" x2="360.1" y2="469" stroke="#115386" stroke-width="0.9" />
<line x1="381" y1="482.3" x2="381" y2="488.1" stroke="#115386" stroke-width="0.9" />
<line x1="379.4" y1="488.1" x2="382.6" y2="488.1" stroke="#115386" stroke-width="0.9" />
<line x1="381" y1="482.3" x2="381" y2="476.5" stroke="#115386" stroke-width="0.9" />
<line x1="379.4" y1="476.5" x2="382.6" y2="476.5" stroke="#115386" stroke-width="0.9" />
<polyline points="319.2,533.5 358.5,473.1 371.7,485.2 381,482.3" fill="none" stroke="#115386" stroke-width="1.3" stroke-linejoin="round"/>
<polygon points="319.2,530.692 316.59999999999997,535.372 321.8,535.372" fill="#115386"/>
<polygon points="358.5,470.29200000000003 355.9,474.97200000000004 361.1,474.97200000000004" fill="#115386"/>
<polygon points="371.7,482.392 369.09999999999997,487.072 374.3,487.072" fill="#115386"/>
<polygon points="381,479.492 378.4,484.172 383.6,484.172" fill="#115386"/>
<line x1="358.5" y1="455.8" x2="358.5" y2="462.1" stroke="#36b34a" stroke-width="0.9" />
<line x1="356.9" y1="462.1" x2="360.1" y2="462.1" stroke="#36b34a" stroke-width="0.9" />
<line x1="371.7" y1="468.5" x2="371.7" y2="476.5" stroke="#36b34a" stroke-width="0.9" />
<line x1="370.09999999999997" y1="476.5" x2="373.3" y2="476.5" stroke="#36b34a" stroke-width="0.9" />
<line x1="381" y1="465.9" x2="381" y2="475.2" stroke="#36b34a" stroke-width="0.9" />
<line x1="379.4" y1="475.2" x2="382.6" y2="475.2" stroke="#36b34a" stroke-width="0.9" />
<polyline points="319.2,533.5 358.5,455.8 371.7,468.5 381,465.9" fill="none" stroke="#36b34a" stroke-width="1.3" stroke-linejoin="round"/>
<rect x="316.7" y="531.0" width="5.0" height="5.0" fill="#36b34a" stroke="none" stroke-width="0" />
<rect x="356.0" y="453.3" width="5.0" height="5.0" fill="#36b34a" stroke="none" stroke-width="0" />
<rect x="369.2" y="466.0" width="5.0" height="5.0" fill="#36b34a" stroke="none" stroke-width="0" />
<rect x="378.5" y="463.4" width="5.0" height="5.0" fill="#36b34a" stroke="none" stroke-width="0" />
<line x1="358.5" y1="446.5" x2="358.5" y2="442.5" stroke="#57196a" stroke-width="0.9" />
<line x1="356.9" y1="442.5" x2="360.1" y2="442.5" stroke="#57196a" stroke-width="0.9" />
<line x1="381" y1="462.5" x2="381" y2="456.7" stroke="#57196a" stroke-width="0.9" />
<line x1="379.4" y1="456.7" x2="382.6" y2="456.7" stroke="#57196a" stroke-width="0.9" />
<polyline points="319.2,530.6 358.5,446.5 371.7,460.6 381,462.5" fill="none" stroke="#57196a" stroke-width="1.3" stroke-linejoin="round"/>
<circle cx="319.2" cy="530.6" r="2.7" fill="#57196a" stroke="none" stroke-width="0"/>
<circle cx="358.5" cy="446.5" r="2.7" fill="#57196a" stroke="none" stroke-width="0"/>
<circle cx="371.7" cy="460.6" r="2.7" fill="#57196a" stroke="none" stroke-width="0"/>
<circle cx="381" cy="462.5" r="2.7" fill="#57196a" stroke="none" stroke-width="0"/>
<polyline points="419.8,535.5 459.4,531.7 472.5,520.1 481.6,512.7 486.4,512.7" fill="none" stroke="#c4122f" stroke-width="1.3" stroke-linejoin="round"/>
<polygon points="419.8,538.308 417.2,533.628 422.40000000000003,533.628" fill="#c4122f"/>
<polygon points="459.4,534.508 456.79999999999995,529.8280000000001 462.0,529.8280000000001" fill="#c4122f"/>
<polygon points="472.5,522.908 469.9,518.2280000000001 475.1,518.2280000000001" fill="#c4122f"/>
<polygon points="481.6,515.508 479.0,510.82800000000003 484.20000000000005,510.82800000000003" fill="#c4122f"/>
<polygon points="486.4,515.508 483.79999999999995,510.82800000000003 489.0,510.82800000000003" fill="#c4122f"/>
<line x1="481.6" y1="478.7" x2="481.6" y2="472.8" stroke="#115386" stroke-width="0.9" />
<line x1="480.0" y1="472.8" x2="483.20000000000005" y2="472.8" stroke="#115386" stroke-width="0.9" />
<line x1="486.1" y1="485.3" x2="486.1" y2="493" stroke="#115386" stroke-width="0.9" />
<line x1="484.5" y1="493" x2="487.70000000000005" y2="493" stroke="#115386" stroke-width="0.9" />
<line x1="486.1" y1="485.3" x2="486.1" y2="475" stroke="#115386" stroke-width="0.9" />
<line x1="484.5" y1="475" x2="487.70000000000005" y2="475" stroke="#115386" stroke-width="0.9" />
<polyline points="419.8,535.5 459.4,530.2 472.8,506.8 481.6,478.7 486.1,485.3" fill="none" stroke="#115386" stroke-width="1.3" stroke-linejoin="round"/>
<polygon points="419.8,532.692 417.2,537.372 422.40000000000003,537.372" fill="#115386"/>
<polygon points="459.4,527.392 456.79999999999995,532.072 462.0,532.072" fill="#115386"/>
<polygon points="472.8,503.992 470.2,508.672 475.40000000000003,508.672" fill="#115386"/>
<polygon points="481.6,475.892 479.0,480.572 484.20000000000005,480.572" fill="#115386"/>
<polygon points="486.1,482.492 483.5,487.172 488.70000000000005,487.172" fill="#115386"/>
<line x1="481.6" y1="463.1" x2="481.6" y2="458.6" stroke="#36b34a" stroke-width="0.9" />
<line x1="480.0" y1="458.6" x2="483.20000000000005" y2="458.6" stroke="#36b34a" stroke-width="0.9" />
<polyline points="419.8,535.5 459.4,521.3 472.5,488.6 481.6,463.1 486.1,466.1" fill="none" stroke="#36b34a" stroke-width="1.3" stroke-linejoin="round"/>
<rect x="417.3" y="533.0" width="5.0" height="5.0" fill="#36b34a" stroke="none" stroke-width="0" />
<rect x="456.9" y="518.8" width="5.0" height="5.0" fill="#36b34a" stroke="none" stroke-width="0" />
<rect x="470.0" y="486.1" width="5.0" height="5.0" fill="#36b34a" stroke="none" stroke-width="0" />
<rect x="479.1" y="460.6" width="5.0" height="5.0" fill="#36b34a" stroke="none" stroke-width="0" />
<rect x="483.6" y="463.6" width="5.0" height="5.0" fill="#36b34a" stroke="none" stroke-width="0" />
<line x1="481.6" y1="447.6" x2="481.6" y2="443.1" stroke="#57196a" stroke-width="0.9" />
<line x1="480.0" y1="443.1" x2="483.20000000000005" y2="443.1" stroke="#57196a" stroke-width="0.9" />
<line x1="472.5" y1="482.1" x2="472.5" y2="477.2" stroke="#57196a" stroke-width="0.9" />
<line x1="470.9" y1="477.2" x2="474.1" y2="477.2" stroke="#57196a" stroke-width="0.9" />
<polyline points="419.8,534.6 459.4,519.6 472.5,482.1 481.6,447.6 486.1,457.2" fill="none" stroke="#57196a" stroke-width="1.3" stroke-linejoin="round"/>
<circle cx="419.8" cy="534.6" r="2.7" fill="#57196a" stroke="none" stroke-width="0"/>
<circle cx="459.4" cy="519.6" r="2.7" fill="#57196a" stroke="none" stroke-width="0"/>
<circle cx="472.5" cy="482.1" r="2.7" fill="#57196a" stroke="none" stroke-width="0"/>
<circle cx="481.6" cy="447.6" r="2.7" fill="#57196a" stroke="none" stroke-width="0"/>
<circle cx="486.1" cy="457.2" r="2.7" fill="#57196a" stroke="none" stroke-width="0"/>
<line x1="305.2" y1="579.8" x2="317.8" y2="579.8" stroke="#c4122f" stroke-width="1.3" />
<polygon points="311.5,582.1759999999999 309.3,578.216 313.7,578.216" fill="#c4122f"/>
<text x="323.97" y="583.6" font-size="8.3" fill="#2a2a2a" stroke="#2a2a2a" font-weight="normal" textLength="57.34" lengthAdjust="spacingAndGlyphs" style="stroke-width:0.18px" >BCL-XL inhibitor</text>
<line x1="305.2" y1="595.4" x2="317.8" y2="595.4" stroke="#115386" stroke-width="1.3" />
<polygon points="311.5,593.024 309.3,596.9839999999999 313.7,596.9839999999999" fill="#115386"/>
<text x="323.97" y="598.2" font-size="8.3" fill="#2a2a2a" stroke="#2a2a2a" font-weight="normal" textLength="53.21" lengthAdjust="spacingAndGlyphs" style="stroke-width:0.18px" >MCL-1 inhibitor</text>
<line x1="427.2" y1="579.8" x2="439.8" y2="579.8" stroke="#36b34a" stroke-width="1.3" />
<rect x="431.5" y="577.8" width="4.0" height="4.0" fill="#36b34a" stroke="none" stroke-width="0" />
<text x="445.96" y="583.6" font-size="8.3" fill="#2a2a2a" stroke="#2a2a2a" font-weight="normal" textLength="52.75" lengthAdjust="spacingAndGlyphs" style="stroke-width:0.18px" >BCL-2 inhibitor</text>
<line x1="427.2" y1="595.4" x2="439.8" y2="595.4" stroke="#57196a" stroke-width="1.3" />
<circle cx="433.5" cy="595.4" r="2.2" fill="#57196a" stroke="none" stroke-width="0"/>
<text x="445.95" y="598.2" font-size="8.3" fill="#2a2a2a" stroke="#2a2a2a" font-weight="normal" textLength="35.44" lengthAdjust="spacingAndGlyphs" style="stroke-width:0.18px" >Untreated</text>
</svg>
</body></html>
